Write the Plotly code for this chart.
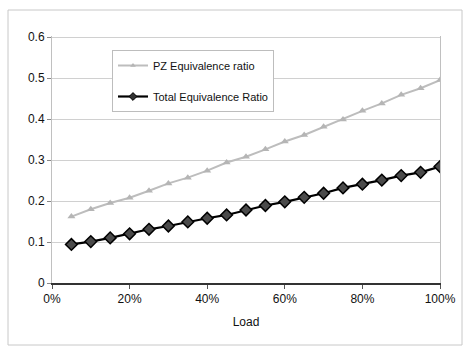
import plotly.graph_objects as go

load = [0.05, 0.10, 0.15, 0.20, 0.25, 0.30, 0.35, 0.40, 0.45, 0.50,
        0.55, 0.60, 0.65, 0.70, 0.75, 0.80, 0.85, 0.90, 0.95, 1.00]
pz_ratio = [0.162, 0.180, 0.195, 0.208, 0.225, 0.243, 0.257, 0.274, 0.294, 0.308,
            0.326, 0.345, 0.361, 0.381, 0.399, 0.420, 0.438, 0.459, 0.475, 0.495]
total_ratio = [0.094, 0.101, 0.110, 0.120, 0.131, 0.139, 0.149, 0.158, 0.166, 0.178,
               0.189, 0.198, 0.209, 0.219, 0.232, 0.241, 0.251, 0.262, 0.270, 0.284]
y_ticks = [0, 0.1, 0.2, 0.3, 0.4, 0.5, 0.6]
x_ticks = [0, 0.2, 0.4, 0.6, 0.8, 1.0]

FONT = "Liberation Sans, Arial, sans-serif"

pz_line = dict(color="#bdbdbd", width=2)
tot_line = dict(color="#000000", width=2.2)

fig = go.Figure()
fig.add_trace(go.Scatter(
    x=load, y=pz_ratio, mode="lines+markers", showlegend=False,
    line=pz_line,
    marker=dict(symbol="triangle-up", size=7, color="#b5b5b5"),
))
fig.add_trace(go.Scatter(
    x=load, y=total_ratio, mode="lines+markers", showlegend=False,
    line=tot_line,
    marker=dict(symbol="diamond", size=9, color="#4a4a4a",
                line=dict(color="#000000", width=1.5)),
))
# legend entries (smaller legend symbols, as in the reference)
fig.add_trace(go.Scatter(
    x=[None], y=[None], mode="lines+markers", name="PZ Equivalence ratio",
    legendgroup="a", line=pz_line,
    marker=dict(symbol="triangle-up", size=5, color="#b5b5b5"),
))
fig.add_trace(go.Scatter(
    x=[None], y=[None], mode="lines+markers", name="Total Equivalence Ratio",
    legendgroup="b", line=tot_line,
    marker=dict(symbol="diamond", size=6, color="#333333",
                line=dict(color="#000000", width=1)),
))

W, H = 473, 354
L, R, T, B = 52, 33, 36, 71
pw, ph = W - L - R, H - T - B

def px(x):
    return (x - L) / pw

def py(y):
    return (H - B - y) / ph

fig.add_shape(type="rect", xref="paper", yref="paper",
              x0=px(8), x1=px(462), y0=py(345), y1=py(10),
              line=dict(color="#c8c8c8", width=1), layer="below")

fig.update_layout(
    width=W, height=H,
    margin=dict(l=L, r=R, t=T, b=B),
    paper_bgcolor="white", plot_bgcolor="white",
    font=dict(family=FONT, size=12, color="#111111"),
    showlegend=True,
    legend=dict(
        x=px(112), y=py(50), xanchor="left", yanchor="top",
        bgcolor="white", bordercolor="#bdbdbd", borderwidth=1,
        font=dict(family=FONT, size=11, color="#111111"),
        traceorder="grouped", tracegroupgap=12,
    ),
    xaxis=dict(
        range=[0, 1], tickvals=x_ticks, tickformat=".0%",
        showgrid=False, zeroline=False,
        showline=True, linecolor="#333333", linewidth=1.5,
        ticks="outside", ticklen=4, tickcolor="#555555",
        title=dict(text="Load", font=dict(size=12), standoff=12),
        tickfont=dict(size=12),
    ),
    yaxis=dict(
        range=[0, 0.6025], tickvals=y_ticks,
        showgrid=True, gridcolor="#d0d0d0", gridwidth=1,
        zeroline=False,
        showline=True, linecolor="#c0c0c0", linewidth=1, mirror=True,
        ticks="outside", ticklen=4, tickcolor="#888888",
        tickfont=dict(size=12),
    ),
)

fig.write_html("out.html")
